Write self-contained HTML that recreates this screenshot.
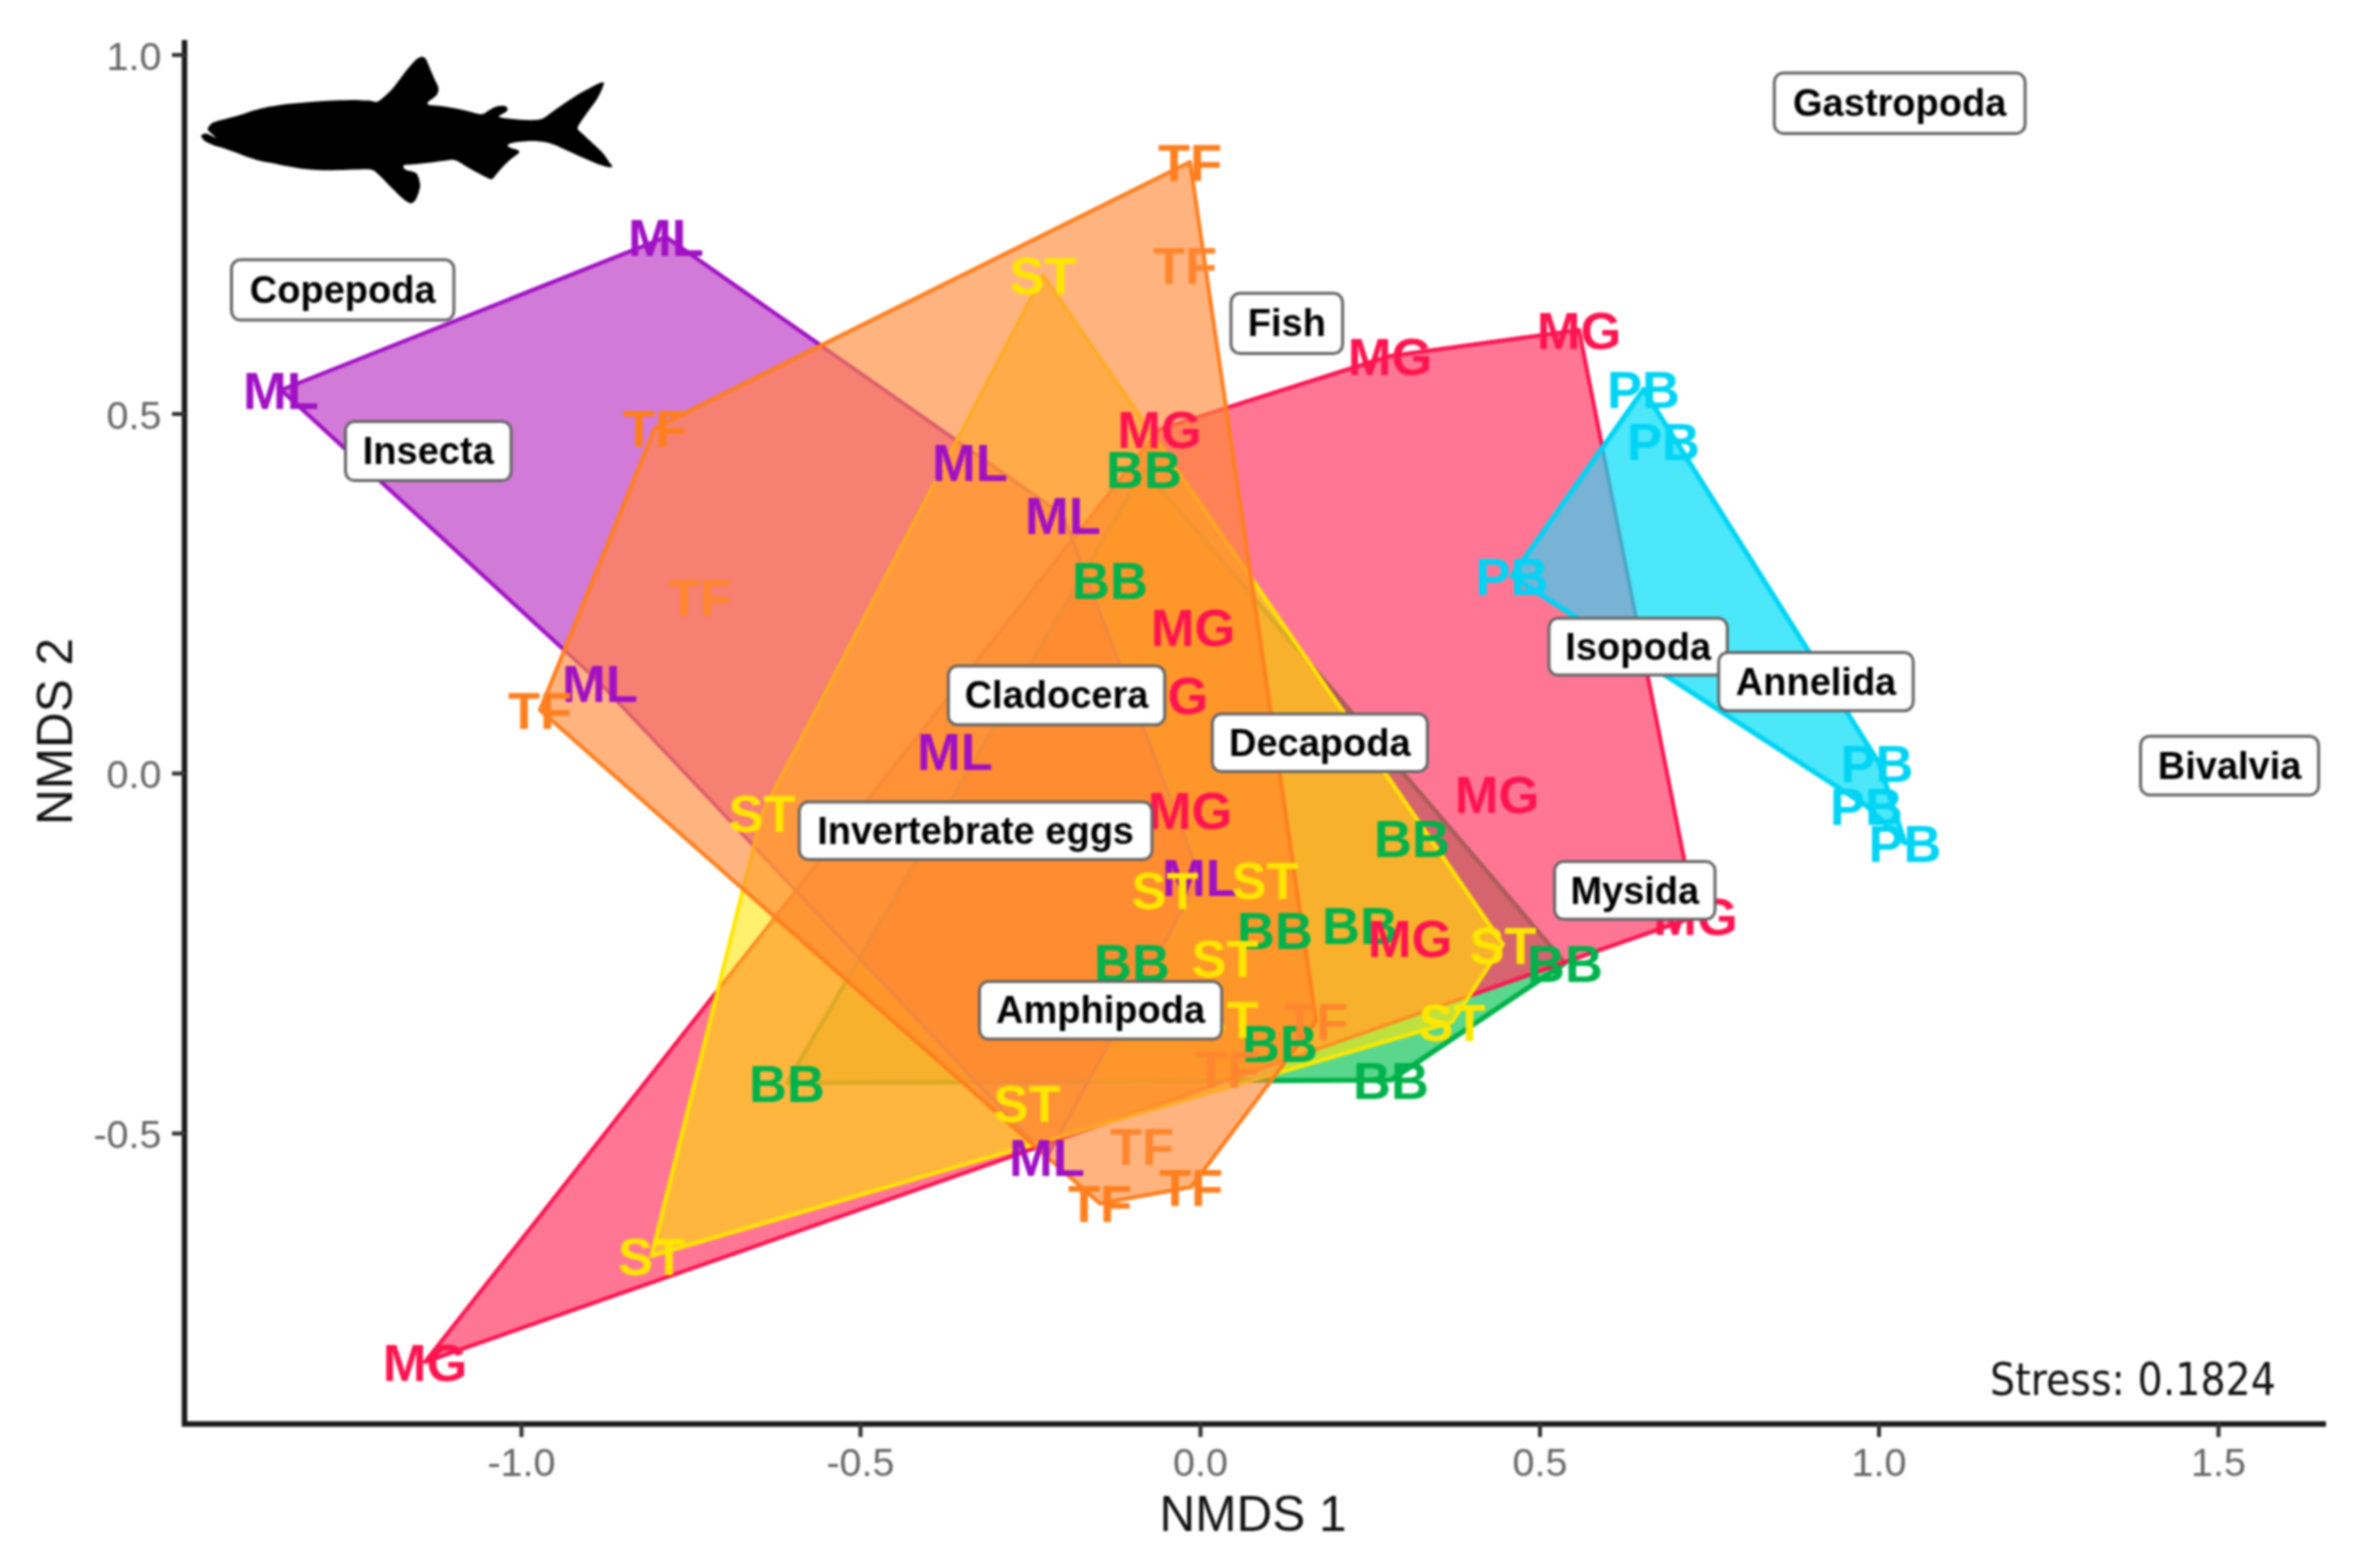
<!DOCTYPE html>
<html><head><meta charset="utf-8"><title>NMDS</title>
<style>
html,body{margin:0;padding:0;background:#fff;}
svg{display:block;filter:blur(0.9px)}
.g{font-family:"Liberation Sans",sans-serif;font-weight:bold;font-size:52.5px;text-anchor:middle}
.lab{font-family:"Liberation Sans",sans-serif;font-weight:bold;font-size:38px;text-anchor:middle;fill:#000}
.tick{font-family:"Liberation Sans",sans-serif;font-size:39.5px;fill:#666}
.ax{font-family:"Liberation Sans",sans-serif;font-size:49.5px;fill:#111;text-anchor:middle}
.stress{font-family:"DejaVu Sans Condensed","DejaVu Sans",sans-serif;font-stretch:condensed;font-size:44px;fill:#111}
.e{fill:none;stroke-width:4;stroke-linecap:round;stroke-linejoin:round}
</style></head><body>
<svg width="2363" height="1568" viewBox="0 0 2363 1568">
<rect width="2363" height="1568" fill="#fff"/>
<g>
<polygon points="787.0,1083.0 846.7,980.3 775.1,917.2 718.0,989.9 651.5,1256.0 1033.0,1144.5 962.3,1082.1" fill="rgb(255,182,62)" stroke="rgb(255,182,62)" stroke-width="1"/>
<polygon points="846.7,980.3 787.0,1083.0 962.3,1082.1" fill="rgb(247,177,45)" stroke="rgb(247,177,45)" stroke-width="1"/>
<polygon points="846.7,980.3 859.5,958.2 796.0,890.8 775.1,917.2" fill="rgb(255,150,52)" stroke="rgb(255,150,52)" stroke-width="1"/>
<polygon points="859.5,958.2 846.7,980.3 962.3,1082.1 976.3,1082.1" fill="rgb(255,150,42)" stroke="rgb(255,150,42)" stroke-width="1"/>
<polygon points="859.5,958.2 1084.4,571.5 1072.3,539.7 796.0,890.8" fill="rgb(255,145,55)" stroke="rgb(255,145,55)" stroke-width="1"/>
<polygon points="1084.4,571.5 859.5,958.2 976.3,1082.1 1088.3,1081.5 1200.0,877.0" fill="rgb(255,140,48)" stroke="rgb(255,140,48)" stroke-width="1"/>
<polygon points="1084.4,571.5 1144.0,469.0 1254.0,598.0 1251.0,577.7 1153.8,436.3 1072.3,539.7" fill="rgb(255,150,52)" stroke="rgb(255,150,52)" stroke-width="1"/>
<polygon points="1254.0,598.0 1144.0,469.0 1084.4,571.5 1200.0,877.0 1088.3,1081.5 1226.9,1080.8 1286.8,1059.8 1316.0,1021.0" fill="rgb(255,150,42)" stroke="rgb(255,150,42)" stroke-width="1"/>
<polygon points="1254.0,598.0 1310.6,664.5 1251.0,577.7" fill="rgb(255,182,62)" stroke="rgb(255,182,62)" stroke-width="1"/>
<polygon points="1310.6,664.5 1254.0,598.0 1316.0,1021.0 1286.8,1059.8 1469.2,995.8 1503.0,944.5" fill="rgb(247,177,45)" stroke="rgb(247,177,45)" stroke-width="1"/>
<polygon points="1310.6,664.5 1564.5,962.4 1695.5,916.5 1645.0,662.3 1512.0,576.0 1602.4,447.8 1579.0,330.0 1390.0,356.0 1226.1,407.9 1251.0,577.7" fill="rgb(255,118,148)" stroke="rgb(255,118,148)" stroke-width="1"/>
<polygon points="1564.5,962.4 1310.6,664.5 1503.0,944.5 1469.2,995.8" fill="rgb(214,100,110)" stroke="rgb(214,100,110)" stroke-width="1"/>
<polygon points="1271.1,1080.6 1391.0,1080.0 1565.0,963.0 1564.5,962.4 1469.2,995.8 1452.0,1022.0 1276.6,1073.3" fill="rgb(90,215,140)" stroke="rgb(90,215,140)" stroke-width="1"/>
<polygon points="1271.1,1080.6 1251.2,1080.7 1107.1,1122.8 1055.9,1140.8 1047.1,1156.9 1100.0,1203.5 1191.0,1187.0" fill="rgb(255,180,128)" stroke="rgb(255,180,128)" stroke-width="1"/>
<polygon points="1251.2,1080.7 1271.1,1080.6 1276.6,1073.3" fill="rgb(213,167,97)" stroke="rgb(213,167,97)" stroke-width="1"/>
<polygon points="1251.2,1080.7 1226.9,1080.8 1107.1,1122.8" fill="rgb(255,171,74)" stroke="rgb(255,171,74)" stroke-width="1"/>
<polygon points="1226.9,1080.8 1251.2,1080.7 1276.6,1073.3 1286.8,1059.8" fill="rgb(237,169,61)" stroke="rgb(237,169,61)" stroke-width="1"/>
<polygon points="1226.9,1080.8 1088.3,1081.5 1057.8,1137.2 1107.1,1122.8" fill="rgb(255,150,52)" stroke="rgb(255,150,52)" stroke-width="1"/>
<polygon points="1088.3,1081.5 976.3,1082.1 1034.7,1144.0 1057.8,1137.2" fill="rgb(255,145,55)" stroke="rgb(255,145,55)" stroke-width="1"/>
<polygon points="976.3,1082.1 962.3,1082.1 1033.0,1144.5 1034.7,1144.0" fill="rgb(255,150,52)" stroke="rgb(255,150,52)" stroke-width="1"/>
<polygon points="718.0,989.9 425.0,1362.0 1036.5,1147.6 1033.0,1144.5 651.5,1256.0" fill="rgb(255,118,148)" stroke="rgb(255,118,148)" stroke-width="1"/>
<polygon points="718.0,989.9 775.1,917.2 743.1,889.0" fill="rgb(255,240,110)" stroke="rgb(255,240,110)" stroke-width="1"/>
<polygon points="775.1,917.2 796.0,890.8 753.8,846.1 743.1,889.0" fill="rgb(255,171,74)" stroke="rgb(255,171,74)" stroke-width="1"/>
<polygon points="796.0,890.8 1072.3,539.7 1063.0,515.0 956.6,440.5 762.0,813.5 753.8,846.1" fill="rgb(255,152,62)" stroke="rgb(255,152,62)" stroke-width="1"/>
<polygon points="1072.3,539.7 1153.8,436.3 1043.0,275.0 956.6,440.5 1063.0,515.0" fill="rgb(255,171,74)" stroke="rgb(255,171,74)" stroke-width="1"/>
<polygon points="1153.8,436.3 1159.5,429.0 1226.1,407.9 1190.0,162.0 820.9,345.5 956.6,440.5 1043.0,275.0" fill="rgb(255,180,128)" stroke="rgb(255,180,128)" stroke-width="1"/>
<polygon points="1226.1,407.9 1159.5,429.0 1153.8,436.3 1251.0,577.7" fill="rgb(255,130,86)" stroke="rgb(255,130,86)" stroke-width="1"/>
<polygon points="1602.4,447.8 1645.0,662.3 1866.5,806.0 1905.0,843.0 1879.0,763.0 1643.5,389.5" fill="rgb(76,231,249)" stroke="rgb(76,231,249)" stroke-width="1"/>
<polygon points="1645.0,662.3 1602.4,447.8 1512.0,576.0" fill="rgb(120,178,212)" stroke="rgb(120,178,212)" stroke-width="1"/>
<polygon points="1469.2,995.8 1286.8,1059.8 1276.6,1073.3 1452.0,1022.0" fill="rgb(190,225,62)" stroke="rgb(190,225,62)" stroke-width="1"/>
<polygon points="1055.9,1140.8 1107.1,1122.8 1057.8,1137.2" fill="rgb(255,130,86)" stroke="rgb(255,130,86)" stroke-width="1"/>
<polygon points="1055.9,1140.8 1037.7,1147.2 1045.8,1155.8 1047.1,1156.9" fill="rgb(246,128,114)" stroke="rgb(246,128,114)" stroke-width="1"/>
<polygon points="1037.7,1147.2 1055.9,1140.8 1057.8,1137.2 1034.7,1144.0" fill="rgb(239,108,95)" stroke="rgb(239,108,95)" stroke-width="1"/>
<polygon points="1037.7,1147.2 1036.5,1147.6 1045.8,1155.8" fill="rgb(255,180,128)" stroke="rgb(255,180,128)" stroke-width="1"/>
<polygon points="1036.5,1147.6 1037.7,1147.2 1034.7,1144.0 1033.0,1144.5" fill="rgb(255,130,86)" stroke="rgb(255,130,86)" stroke-width="1"/>
<polygon points="820.9,345.5 666.0,237.0 281.0,390.0 564.4,650.3 655.0,428.0" fill="rgb(210,122,215)" stroke="rgb(210,122,215)" stroke-width="1"/>
<polygon points="956.6,440.5 820.9,345.5 655.0,428.0 564.4,650.3 600.0,683.0 753.8,846.1 762.0,813.5" fill="rgb(246,128,114)" stroke="rgb(246,128,114)" stroke-width="1"/>
<polygon points="1045.8,1155.8 1047.0,1157.0 1047.1,1156.9" fill="rgb(210,122,215)" stroke="rgb(210,122,215)" stroke-width="1"/>
<polygon points="753.8,846.1 600.0,683.0 564.4,650.3 540.0,710.0 743.1,889.0" fill="rgb(255,180,128)" stroke="rgb(255,180,128)" stroke-width="1"/>
</g>
<g class="e"><path d="M859.5,958.2 L1084.4,571.5M1088.3,1081.5 L976.3,1082.1" stroke="rgb(242,142,56)" stroke-width="4.4"/><path d="M846.7,980.3 L859.5,958.2M976.3,1082.1 L962.3,1082.1M1084.4,571.5 L1144.0,469.0 L1254.0,598.0M1226.9,1080.8 L1088.3,1081.5" stroke="rgb(242,149,48)" stroke-width="4.4"/><path d="M962.3,1082.1 L787.0,1083.0 L846.7,980.3M1254.0,598.0 L1310.6,664.5" stroke="rgb(219,170,39)" stroke-width="4.4"/><path d="M1251.2,1080.7 L1226.9,1080.8" stroke="rgb(214,162,46)" stroke-width="4.4"/><path d="M1310.6,664.5 L1564.5,962.4" stroke="rgb(171,93,88)" stroke-width="4.4"/><path d="M1271.1,1080.6 L1251.2,1080.7" stroke="rgb(161,152,61)" stroke-width="4.4"/><path d="M1564.5,962.4 L1565.0,963.0 L1391.0,1080.0 L1271.1,1080.6" stroke="rgb(0,178,75)" stroke-width="5.2"/></g>
<g class="e"><path d="M796.0,890.8 L1072.3,539.7" stroke="rgb(248,137,55)" stroke-width="3.4"/><path d="M775.1,917.2 L796.0,890.8M1072.3,539.7 L1153.8,436.3M1286.8,1059.8 L1107.1,1122.8" stroke="rgb(255,137,46)" stroke-width="3.4"/><path d="M1055.9,1140.8 L1037.7,1147.2" stroke="rgb(239,92,84)" stroke-width="3.4"/><path d="M718.0,989.9 L775.1,917.2M1469.2,995.8 L1286.8,1059.8" stroke="rgb(255,139,35)" stroke-width="3.4"/><path d="M1037.7,1147.2 L1036.5,1147.6M1107.1,1122.8 L1055.9,1140.8M1153.8,436.3 L1159.5,429.0 L1226.1,407.9" stroke="rgb(255,93,63)" stroke-width="3.4"/><path d="M1602.4,447.8 L1645.0,662.3" stroke="rgb(72,164,199)" stroke-width="3.4"/><path d="M1036.5,1147.6 L425.0,1362.0 L718.0,989.9M1226.1,407.9 L1390.0,356.0 L1579.0,330.0 L1602.4,447.8M1645.0,662.3 L1695.5,916.5 L1469.2,995.8" stroke="rgb(255,20,80)" stroke-width="4.0"/></g>
<g class="e"><path d="M1034.7,1144.0 L753.8,846.1M956.6,440.5 L1063.0,515.0 L1200.0,877.0 L1057.8,1137.2" stroke="rgb(240,137,65)" stroke-width="3.4"/><path d="M753.8,846.1 L600.0,683.0 L564.4,650.3M820.9,345.5 L956.6,440.5M1045.8,1155.8 L1034.7,1144.0M1057.8,1137.2 L1047.1,1156.9" stroke="rgb(220,92,106)" stroke-width="3.4"/><path d="M564.4,650.3 L281.0,390.0 L666.0,237.0 L820.9,345.5M1047.1,1156.9 L1047.0,1157.0 L1045.8,1155.8" stroke="rgb(160,16,196)" stroke-width="4.0"/></g>
<g class="e"><path d="M1643.5,389.5 L1512.0,576.0 L1866.5,806.0 L1905.0,843.0 L1879.0,763.0 L1643.5,389.5" stroke="rgb(0,212,245)" stroke-width="5.0"/></g>
<g class="e"><path d="M1251.0,577.7 L1043.0,275.0 L762.0,813.5 L743.1,889.0M1033.0,1144.5 L1276.6,1073.3" stroke="rgb(255,171,33)" stroke-width="3.4"/><path d="M743.1,889.0 L651.5,1256.0 L1033.0,1144.5M1276.6,1073.3 L1452.0,1022.0 L1503.0,944.5 L1251.0,577.7" stroke="rgb(255,230,0)" stroke-width="4.0"/></g>
<g class="e"><path d="M1190.0,162.0 L655.0,428.0 L540.0,710.0 L1100.0,1203.5 L1191.0,1187.0 L1316.0,1021.0 L1190.0,162.0" stroke="rgb(255,127,30)" stroke-width="4.0"/></g>
<g class="g" fill="rgb(0,178,75)"><text x="1144" y="487.5">BB</text><text x="1110" y="598.5">BB</text><text x="1412" y="856.5">BB</text><text x="1275" y="948.5">BB</text><text x="1360" y="943.5">BB</text><text x="1132" y="980.5">BB</text><text x="1565" y="981.5">BB</text><text x="1280" y="1061.5">BB</text><text x="1391" y="1098.5">BB</text><text x="787" y="1101.5">BB</text></g>
<g class="g" fill="rgb(255,20,80)"><text x="1159.5" y="447.5">MG</text><text x="1390" y="374.5">MG</text><text x="1579" y="348.5">MG</text><text x="1193" y="645.5">MG</text><text x="1166" y="713.5">MG</text><text x="1190" y="828.5">MG</text><text x="1497" y="812.5">MG</text><text x="1410" y="956.5">MG</text><text x="1695.5" y="935.0">MG</text><text x="425" y="1380.5">MG</text></g>
<g class="g" fill="rgb(160,16,196)"><text x="666" y="255.5">ML</text><text x="281" y="408.5">ML</text><text x="970" y="480.5">ML</text><text x="1063" y="533.5">ML</text><text x="600" y="701.5">ML</text><text x="955" y="769.5">ML</text><text x="1200" y="895.5">ML</text><text x="1047" y="1175.5">ML</text></g>
<g class="g" fill="rgb(0,212,245)"><text x="1643.5" y="408.0">PB</text><text x="1663.5" y="460.0">PB</text><text x="1512" y="594.5">PB</text><text x="1877" y="781.5">PB</text><text x="1866.5" y="824.5">PB</text><text x="1905" y="861.5">PB</text></g>
<g class="g" fill="rgb(255,230,0)"><text x="1043" y="293.5">ST</text><text x="762" y="832.0">ST</text><text x="1165" y="908.5">ST</text><text x="1265" y="898.5">ST</text><text x="1225" y="976.5">ST</text><text x="1503" y="964.0">ST</text><text x="1225" y="1037.5">ST</text><text x="1452" y="1040.5">ST</text><text x="1027" y="1122.0">ST</text><text x="651.5" y="1274.5">ST</text></g>
<g class="g" fill="rgb(255,127,30)"><text x="1190" y="180.5">TF</text><text x="1185" y="283.5" fill="rgb(255,134,46)">TF</text><text x="655" y="446.5">TF</text><text x="700" y="615.5" fill="rgb(255,134,46)">TF</text><text x="540" y="728.5">TF</text><text x="1316" y="1039.5" fill="rgb(255,134,46)">TF</text><text x="1227" y="1088.0" fill="rgb(255,134,46)">TF</text><text x="1142" y="1165.0" fill="rgb(255,134,46)">TF</text><text x="1191" y="1205.5">TF</text><text x="1100" y="1222.0">TF</text></g>
<path d="M184.5,40 V1424 H2326" fill="none" stroke="#1a1a1a" stroke-width="5.5" stroke-linejoin="miter"/>
<line x1="521.5" y1="1423" x2="521.5" y2="1437" stroke="#333" stroke-width="4"/><text class="tick" x="521.5" y="1476" text-anchor="middle">-1.0</text>
<line x1="860.5" y1="1423" x2="860.5" y2="1437" stroke="#333" stroke-width="4"/><text class="tick" x="860.5" y="1476" text-anchor="middle">-0.5</text>
<line x1="1200.5" y1="1423" x2="1200.5" y2="1437" stroke="#333" stroke-width="4"/><text class="tick" x="1200.5" y="1476" text-anchor="middle">0.0</text>
<line x1="1540" y1="1423" x2="1540" y2="1437" stroke="#333" stroke-width="4"/><text class="tick" x="1540" y="1476" text-anchor="middle">0.5</text>
<line x1="1879" y1="1423" x2="1879" y2="1437" stroke="#333" stroke-width="4"/><text class="tick" x="1879" y="1476" text-anchor="middle">1.0</text>
<line x1="2218.5" y1="1423" x2="2218.5" y2="1437" stroke="#333" stroke-width="4"/><text class="tick" x="2218.5" y="1476" text-anchor="middle">1.5</text>
<line x1="172" y1="55" x2="185" y2="55" stroke="#333" stroke-width="4"/><text class="tick" x="161.5" y="69.5" text-anchor="end">1.0</text>
<line x1="172" y1="414" x2="185" y2="414" stroke="#333" stroke-width="4"/><text class="tick" x="161.5" y="428.5" text-anchor="end">0.5</text>
<line x1="172" y1="773.5" x2="185" y2="773.5" stroke="#333" stroke-width="4"/><text class="tick" x="161.5" y="788.0" text-anchor="end">0.0</text>
<line x1="172" y1="1133.5" x2="185" y2="1133.5" stroke="#333" stroke-width="4"/><text class="tick" x="161.5" y="1148.0" text-anchor="end">-0.5</text>
<text class="ax" x="1253" y="1531">NMDS 1</text>
<text class="ax" transform="translate(71.5,731.5) rotate(-90)">NMDS 2</text>
<text class="stress" x="1990" y="1395">Stress: 0.1824</text>
<path d="M201.5,135.3C202.2,134.7 203.7,133.2 206.1,133.5C208.5,133.9 215.3,137.9 215.8,137.6C216.3,137.2 210.3,132.8 208.9,131.2C207.6,129.7 207.1,129.8 207.8,128.4C208.5,126.9 210.2,124.2 213.0,122.6C215.7,121.1 220.6,120.2 224.4,119.2C228.3,118.1 231.7,117.6 235.9,116.3C240.1,115.1 244.9,113.2 249.7,111.7C254.5,110.3 259.2,108.9 264.6,107.7C270.0,106.6 275.1,105.7 281.8,104.8C288.5,104.0 297.1,103.2 304.8,102.6C312.4,101.9 320.1,101.3 327.7,100.8C335.4,100.4 344.0,100.0 350.7,99.9C357.4,99.9 363.7,100.3 367.9,100.6C372.1,100.9 373.8,102.1 375.9,102.0C378.0,101.8 378.0,101.6 380.5,99.7C383.0,97.8 387.6,93.9 390.9,90.5C394.1,87.1 397.4,82.5 400.0,79.0C402.7,75.6 404.4,72.9 406.9,69.8C409.4,66.8 412.6,62.8 414.9,60.7C417.2,58.5 419.0,57.5 420.7,57.0C422.3,56.5 423.5,56.9 424.7,57.8C425.8,58.7 426.5,60.2 427.5,62.4C428.6,64.6 429.7,67.8 431.0,71.0C432.3,74.1 434.3,78.5 435.6,81.3C436.8,84.2 438.2,86.1 438.5,88.2C438.7,90.3 438.2,92.3 437.3,93.9C436.4,95.6 434.8,96.6 433.3,98.0C431.8,99.3 428.9,100.8 428.1,102.0C427.4,103.1 426.7,104.2 428.7,104.8C430.7,105.5 436.3,105.5 440.2,106.0C444.0,106.5 447.8,107.0 451.6,107.7C455.5,108.4 459.3,109.2 463.1,110.0C467.0,110.9 471.4,112.2 474.6,112.9C477.9,113.6 480.2,114.5 482.6,114.0C485.1,113.6 487.2,111.3 489.5,110.0C491.8,108.8 494.1,107.3 496.4,106.6C498.7,105.8 501.5,105.5 503.3,105.7C505.1,105.8 506.7,106.8 507.3,107.7C507.9,108.6 507.6,110.1 506.7,111.2C505.9,112.2 503.5,113.2 502.2,114.0C500.8,114.9 498.5,115.7 498.7,116.3C498.9,117.0 500.6,117.6 503.3,118.0C506.0,118.5 511.0,118.9 514.8,119.2C518.6,119.5 522.4,120.0 526.3,120.1C530.1,120.2 534.7,120.2 537.7,119.8C540.8,119.3 541.8,119.1 544.6,117.5C547.5,115.8 551.3,112.6 554.9,110.0C558.6,107.4 562.6,104.6 566.4,102.0C570.3,99.4 574.1,96.8 577.9,94.5C581.7,92.2 585.7,90.1 589.4,88.2C593.0,86.3 597.3,84.0 599.7,83.0C602.1,82.1 603.2,82.0 603.7,82.5C604.3,82.9 603.8,84.0 603.2,85.9C602.5,87.8 601.1,91.3 599.7,93.9C598.4,96.6 597.0,99.1 595.1,102.0C593.2,104.8 590.3,108.3 588.2,111.2C586.1,114.0 584.1,116.8 582.5,119.2C580.9,121.6 579.3,123.9 578.5,125.5C577.7,127.1 577.4,127.9 577.7,129.0C578.0,130.0 578.8,130.5 580.2,131.8C581.6,133.2 583.5,134.7 585.9,137.0C588.4,139.3 592.3,142.8 595.1,145.6C598.0,148.4 600.9,151.0 603.2,153.6C605.5,156.3 607.4,159.6 608.9,161.7C610.4,163.8 612.3,165.3 612.3,166.3C612.3,167.2 610.8,167.4 608.9,167.2C607.0,167.0 604.1,166.2 600.9,165.1C597.6,164.0 593.2,162.1 589.4,160.5C585.6,158.9 581.7,157.1 577.9,155.4C574.1,153.6 570.3,151.9 566.4,150.2C562.6,148.5 558.2,146.3 554.9,145.0C551.7,143.7 549.8,143.1 546.9,142.5C544.0,141.9 541.2,141.4 537.7,141.2C534.3,141.0 530.1,141.0 526.3,141.2C522.4,141.4 517.6,141.9 514.8,142.4C511.9,142.8 510.2,143.2 509.0,143.9C507.9,144.5 507.3,145.4 507.9,146.2C508.5,146.9 510.8,147.8 512.5,148.5C514.2,149.1 517.2,149.4 518.2,150.2C519.3,151.0 519.6,151.9 518.8,153.1C518.0,154.2 515.4,155.6 513.6,157.1C511.8,158.5 509.8,159.9 507.9,161.7C506.0,163.4 504.1,165.3 502.2,167.4C500.2,169.5 497.9,172.5 496.4,174.3C494.9,176.1 494.0,177.5 493.0,178.3C491.9,179.1 492.2,179.8 490.1,179.1C488.0,178.4 483.9,176.1 480.3,174.3C476.8,172.4 472.3,170.0 468.9,168.0C465.4,166.0 462.2,163.6 459.7,162.2C457.2,160.9 456.2,160.2 453.9,159.9C451.6,159.7 450.1,160.0 445.9,160.5C441.7,161.0 434.4,162.1 428.7,162.8C423.0,163.5 415.5,164.2 411.5,164.5C407.5,164.9 405.9,164.6 404.6,165.1C403.3,165.6 403.1,166.5 403.4,167.4C403.8,168.3 405.2,169.5 406.9,170.3C408.6,171.0 412.0,171.1 413.8,172.0C415.6,172.9 416.7,173.3 417.8,175.4C418.8,177.5 419.9,181.9 420.1,184.6C420.3,187.3 419.6,189.1 418.9,191.5C418.3,193.9 417.0,197.1 416.1,199.0C415.1,200.8 414.3,201.7 413.2,202.4C412.1,203.1 411.2,203.4 409.8,203.0C408.3,202.6 406.2,201.3 404.6,200.1C403.0,199.0 401.3,197.3 400.0,196.1C398.7,194.9 398.7,194.8 396.6,192.7C394.5,190.5 390.5,186.5 387.4,183.5C384.4,180.4 380.9,176.6 378.2,174.3C375.6,172.0 375.0,170.5 371.3,169.7C367.7,168.9 361.8,169.4 356.4,169.5C351.1,169.5 344.9,169.9 339.2,170.0C333.5,170.2 327.7,170.4 322.0,170.3C316.3,170.1 310.5,169.8 304.8,169.1C299.0,168.5 293.3,167.3 287.6,166.3C281.8,165.2 275.1,163.8 270.3,162.8C265.6,161.9 262.7,161.5 258.9,160.5C255.0,159.6 251.2,158.4 247.4,157.1C243.6,155.7 239.7,153.9 235.9,152.5C232.1,151.0 228.3,149.7 224.4,148.5C220.6,147.2 216.2,146.3 213.0,145.0C209.7,143.8 206.8,142.3 204.9,141.0C203.0,139.7 202.1,137.9 201.5,137.0C200.9,136.0 200.7,135.8 201.5,135.3Z" fill="#000"/>
<rect x="1774.3" y="73.1" width="250.8" height="60.3" rx="9" ry="9" fill="#fff" stroke="#666" stroke-width="3"/><text class="lab" x="1899.7" y="116.2">Gastropoda</text>
<rect x="231.5" y="259.7" width="222.4" height="60.4" rx="9" ry="9" fill="#fff" stroke="#666" stroke-width="3"/><text class="lab" x="342.7" y="302.9">Copepoda</text>
<rect x="1231.0" y="293.2" width="111.6" height="60.3" rx="9" ry="9" fill="#fff" stroke="#666" stroke-width="3"/><text class="lab" x="1286.8" y="336.4">Fish</text>
<rect x="345.5" y="421.5" width="165.6" height="59.1" rx="9" ry="9" fill="#fff" stroke="#666" stroke-width="3"/><text class="lab" x="428.3" y="464.1">Insecta</text>
<rect x="1549.0" y="618.3" width="178.3" height="56.8" rx="9" ry="9" fill="#fff" stroke="#666" stroke-width="3"/><text class="lab" x="1638.2" y="659.7">Isopoda</text>
<rect x="1718.7" y="652.5" width="194.5" height="58.3" rx="9" ry="9" fill="#fff" stroke="#666" stroke-width="3"/><text class="lab" x="1816.0" y="694.6">Annelida</text>
<rect x="948.4" y="666.0" width="216.3" height="58.8" rx="9" ry="9" fill="#fff" stroke="#666" stroke-width="3"/><text class="lab" x="1056.5" y="708.4">Cladocera</text>
<rect x="1212.3" y="714.0" width="215.1" height="57.5" rx="9" ry="9" fill="#fff" stroke="#666" stroke-width="3"/><text class="lab" x="1319.8" y="755.8">Decapoda</text>
<rect x="2140.6" y="736.2" width="178.0" height="58.7" rx="9" ry="9" fill="#fff" stroke="#666" stroke-width="3"/><text class="lab" x="2229.6" y="778.5">Bivalvia</text>
<rect x="799.3" y="802.1" width="352.7" height="57.4" rx="9" ry="9" fill="#fff" stroke="#666" stroke-width="3"/><text class="lab" x="975.6" y="843.8">Invertebrate eggs</text>
<rect x="1554.6" y="861.6" width="160.4" height="57.7" rx="9" ry="9" fill="#fff" stroke="#666" stroke-width="3"/><text class="lab" x="1634.8" y="903.5">Mysida</text>
<rect x="979.5" y="981.6" width="242.2" height="57.5" rx="9" ry="9" fill="#fff" stroke="#666" stroke-width="3"/><text class="lab" x="1100.6" y="1023.3">Amphipoda</text>
</svg></body></html>
